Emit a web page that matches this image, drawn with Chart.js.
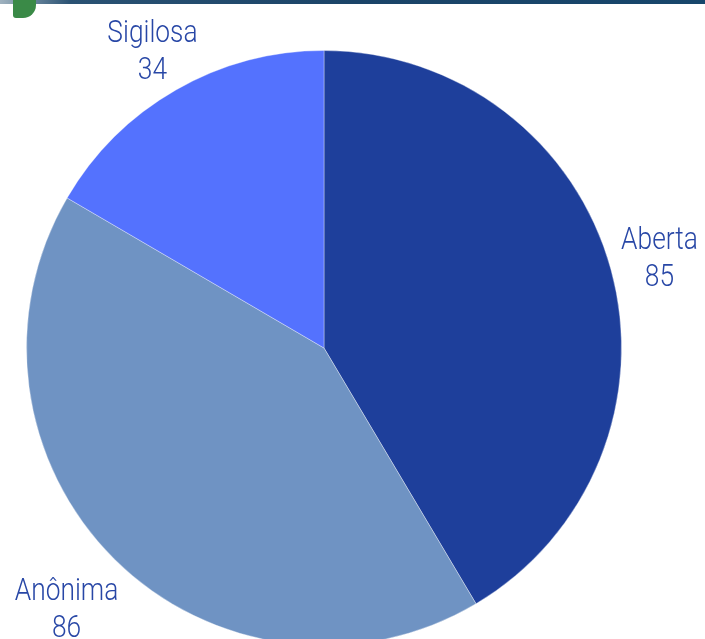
<!DOCTYPE html>
<html>
<head>
<meta charset="utf-8">
<script src="https://cdn.jsdelivr.net/npm/chart.js@4/dist/chart.umd.min.js"></script>
<style>
    html, body { margin: 0; padding: 0; background: #ffffff; width: 705px; height: 639px; overflow: hidden; }
    #wrap { position: relative; width: 705px; height: 700px; }
    #topbar { position: absolute; left: 0; top: 0; width: 705px; height: 4px;
        background: linear-gradient(to right, #9fb2bf, #2a5273 10%, #1b4468 50%, #17466b); z-index: 2; }
    #mark { position: absolute; left: 13px; top: 0; width: 23px; height: 18px;
        background: #3a8a47; border-radius: 0 0 13px 3px; z-index: 3; }
</style>
</head>
<body>
<div id="wrap">
    <div id="topbar"></div>
    <div id="mark"></div>
    <canvas id="pie"></canvas>
</div>
<script>
const categories = ['Aberta', 'Anônima', 'Sigilosa'];
const counts = [85, 86, 34];
const sliceColors = ['#1e3f9b', '#6f93c3', '#5472fe'];

const labelFont = '300 31px "Roboto", sans-serif';
const labelColor = '#2847a6';
const squeeze = 0.85;          // narrow the glyphs a bit, the original uses a condensed face
const lineGap = 37;
const labelNudgeX = [0, -3, 5];
const labelNudgeY = [3, 20, 2];

// draws "name / value" outside each slice, placed along the slice's mid angle
const outsideLabels = {
    id: 'outsideLabels',
    afterDatasetsDraw(chart) {
        const ctx = chart.ctx;
        const meta = chart.getDatasetMeta(0);
        ctx.save();
        ctx.font = labelFont;
        ctx.fillStyle = labelColor;
        ctx.textAlign = 'center';
        ctx.textBaseline = 'middle';
        meta.data.forEach((arc, i) => {
            const mid = (arc.startAngle + arc.endAngle) / 2;
            const cos = Math.cos(mid);
            const sin = Math.sin(mid);
            const name = categories[i];
            const value = String(chart.data.datasets[0].data[i]);
            const w = squeeze * Math.max(ctx.measureText(name).width, ctx.measureText(value).width);
            const h = 66;
            const d = arc.outerRadius + 12;
            const x = arc.x + d * cos + cos * w / 2 + labelNudgeX[i];
            const y = arc.y + d * sin + sin * h / 2 + labelNudgeY[i];
            ctx.save();
            ctx.translate(x, y);
            ctx.scale(squeeze, 1);
            ctx.fillText(name, 0, -lineGap / 2);
            ctx.fillText(value, 0, lineGap / 2);
            ctx.restore();
        });
        ctx.restore();
    }
};

const canvas = document.getElementById('pie');
canvas.width = 705;
canvas.height = 700;

new Chart(canvas.getContext('2d'), {
    type: 'pie',
    data: {
        labels: categories,
        datasets: [{
            data: counts,
            backgroundColor: sliceColors,
            borderColor: 'rgba(255, 255, 255, 0.35)',
            borderWidth: 1
        }]
    },
    options: {
        responsive: false,
        animation: false,
        layout: {
            padding: { left: 26, top: 50, right: 83, bottom: 54 }
        },
        plugins: {
            legend: { display: false },
            tooltip: { enabled: false }
        }
    },
    plugins: [outsideLabels]
});
</script>
</body>
</html>
